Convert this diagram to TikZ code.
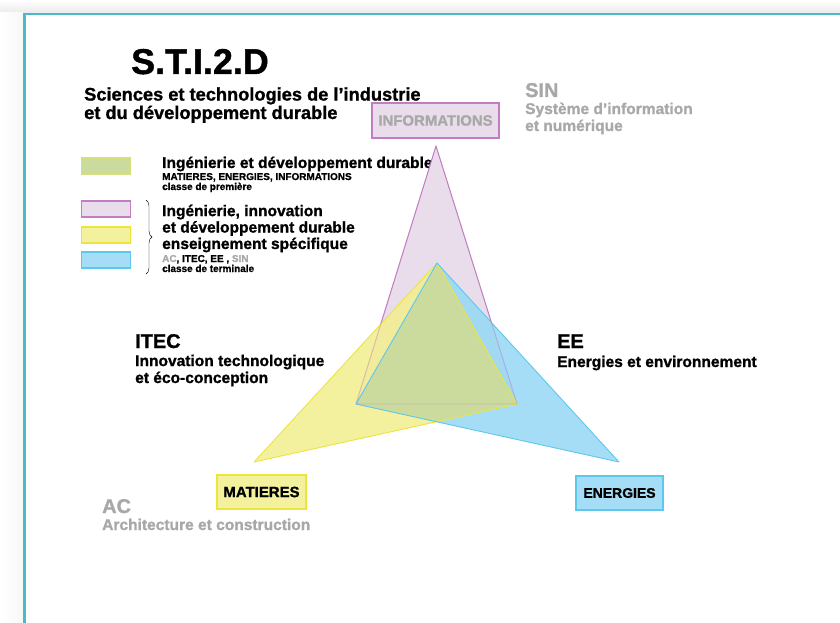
\documentclass[tikz,border=0pt]{standalone}
\usepackage{fontspec}
\setmainfont{Liberation Sans}[BoldFeatures={FakeBold=1.2}]
\usetikzlibrary{positioning}
\usetikzlibrary{decorations.pathreplacing}
\definecolor{stiframe}{HTML}{4DB8CA}
\definecolor{sinfill}{HTML}{EADDEB}
\definecolor{sinline}{HTML}{C07DC0}
\definecolor{acfill}{HTML}{F3F09E}
\definecolor{actint}{HTML}{F2EE93}
\definecolor{acline}{HTML}{EDE53E}
\definecolor{eefill}{HTML}{A4DDF5}
\definecolor{eetint}{HTML}{9AD9F4}
\definecolor{eeline}{HTML}{5CC8EE}
\definecolor{iddfill}{HTML}{CBDB9E}
\definecolor{iddline}{HTML}{D8E07A}
\definecolor{palegray}{HTML}{A8A8A8}
\tikzset{txt/.style={anchor=base west,inner sep=0pt,align=left,font=\bfseries\fontsize{15.6}{17}\selectfont},
         small/.style={txt,font=\bfseries\fontsize{10}{11}\selectfont},
         head/.style={txt,font=\bfseries\fontsize{20}{22}\selectfont},
         key/.style={draw,line width=1.2bp,minimum width=49bp,minimum height=16bp,inner sep=0pt},
         pole/.style={draw,line width=1.2bp,inner sep=0pt,font=\bfseries\fontsize{15}{17}\selectfont},
         face/.style={line width=0.9bp,line join=round},
         }

\begin{document}
\begin{tikzpicture}[x=1bp,y=-1bp]
\useasboundingbox (0,0) rectangle (840,623);
% page edge
\shade[top color=white,bottom color=black!8] (0,0) rectangle (840,13);
\shade[left color=white,right color=black!3] (0,13) rectangle (23,623);
\draw[stiframe,line width=2.5bp] (24.5,623) -- (24.5,14) -- (840,14);

% title (multi-line nodes sit on their last line)
\node[txt,font=\bfseries\fontsize{36}{38}\selectfont] (stid) at (131,74) {S.T.I.2.D};
\node[txt,font=\bfseries\fontsize{18.3}{18.5}\selectfont] (sci) at (84,119) {Sciences et technologies de l’industrie\\et du développement durable};

% legend
\node[key,fill=iddfill,draw=iddline] (kidd) at (106,166) {};
\node[key,fill=sinfill,draw=sinline] (ksin) at (106,209) {};
\node[key,fill=acfill,draw=acline] (kac) at (106,235) {};
\node[key,fill=eefill,draw=eeline] (kee) at (106,260) {};
\node[txt] (idd) at (162,168) {Ingénierie et développement durable};
\node[small] (iddpoles) at (162,180) {MATIERES, ENERGIES, INFORMATIONS};
\node[small] (iddclass) at (162,190) {classe de première};
\node[txt,font=\bfseries\fontsize{15.6}{16.5}\selectfont] (iidd) at (162,249) {Ingénierie, innovation\\et développement durable\\enseignement spécifique};
\node[small] (iiddspec) at (162,262) {\textcolor{palegray}{AC}, ITEC, EE , \textcolor{palegray}{SIN}};
\node[small] (iiddclass) at (162,272) {classe de terminale};
\draw[decorate,decoration={brace,amplitude=6bp}] (146,200) -- (146,274);

% triangles
\coordinate (top) at (436,146);
\coordinate (hub) at (437,263);
\coordinate (bl) at (356,404);
\coordinate (br) at (517,404);
\coordinate (mat) at (254,462);
\coordinate (ene) at (619,462);
\filldraw[face,fill=sinfill,draw=sinline] (top) -- (bl) -- (br) -- cycle;
\fill[actint,fill opacity=0.9] (hub) -- (mat) -- (br) -- cycle;
\fill[eetint,fill opacity=0.9] (hub) -- (bl) -- (ene) -- cycle;
\begin{scope}
  \clip (hub) -- (mat) -- (br) -- cycle;
  \fill[iddfill] (hub) -- (bl) -- (ene) -- cycle;
\end{scope}
\draw[face,acline] (hub) -- (mat) -- (br) -- cycle;
\draw[face,eeline] (hub) -- (bl) -- (ene) -- cycle;
\draw[face,sinline,draw opacity=0.4] (top) -- (bl) -- (br) -- cycle;

% poles
\node[pole,fill=sinfill,draw=sinline,text=palegray,minimum width=127bp,minimum height=35bp] (info) at (435.5,120.5) {INFORMATIONS};
\node[pole,fill=acfill,draw=acline,minimum width=89bp,minimum height=34bp] (matieres) at (261.5,492) {MATIERES};
\node[pole,fill=eefill,draw=eeline,minimum width=87bp,minimum height=34bp,font=\bfseries\fontsize{14}{16}\selectfont] (energies) at (619.5,493) {ENERGIES};

% specialities
\node[head,text=palegray] (sin) at (525,97) {SIN};
\node[txt,text=palegray] (sinname) at (525,131) {Système d’information\\et numérique};
\node[head] (itec) at (135,348) {ITEC};
\node[txt] (itecname) at (135,383) {Innovation technologique\\et éco-conception};
\node[head] (ee) at (557,348) {EE};
\node[txt] (eename) at (557,367) {Energies et environnement};
\node[head,text=palegray] (ac) at (102,513) {AC};
\node[txt,text=palegray] (acname) at (102,530) {Architecture et construction};
\end{tikzpicture}
\end{document}
